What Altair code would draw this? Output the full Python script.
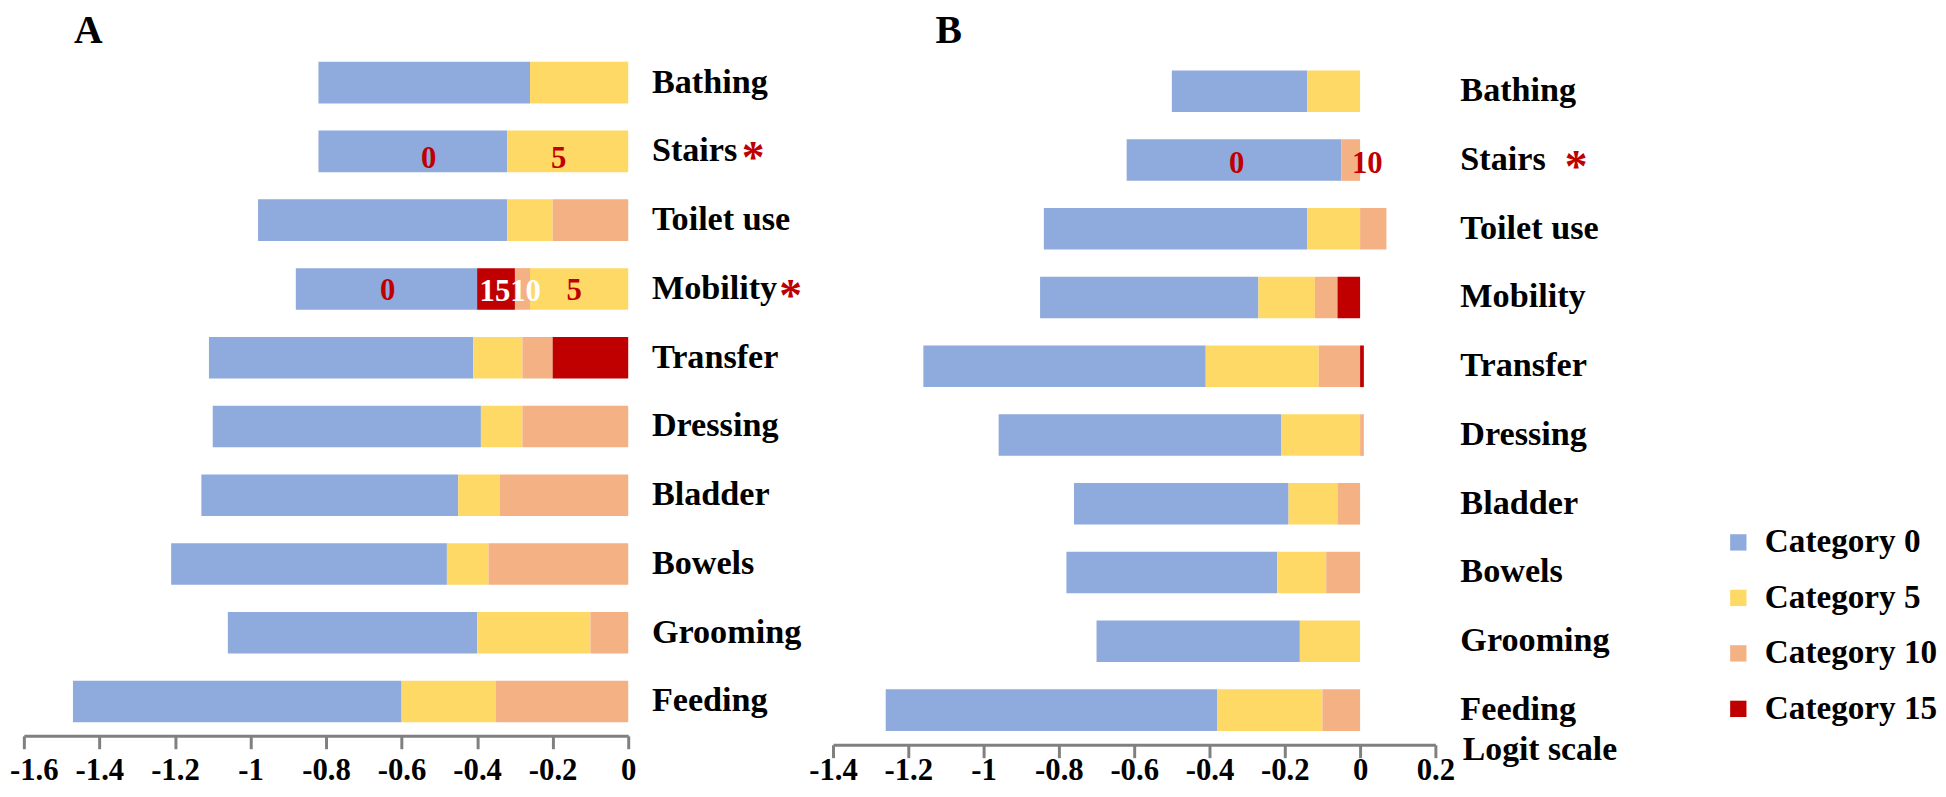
import altair as alt
import pandas as pd

# ---------------- data ----------------
items = ["Bathing", "Stairs", "Toilet use", "Mobility", "Transfer",
         "Dressing", "Bladder", "Bowels", "Grooming", "Feeding"]
categories = ["Category 0", "Category 5", "Category 10", "Category 15"]
colors = ["#8FAADC", "#FFD966", "#F4B183", "#C00000"]

# Panel A: (start, end) of each category segment, per item (None = absent)
A_cat0 = [(-0.82, -0.26), (-0.82, -0.32), (-0.98, -0.32), (-0.88, -0.40), (-1.11, -0.41),
          (-1.10, -0.39), (-1.13, -0.45), (-1.21, -0.48), (-1.06, -0.40), (-1.47, -0.60)]
A_cat5 = [(-0.26, 0.0), (-0.32, 0.0), (-0.32, -0.20), (-0.26, 0.0), (-0.41, -0.28),
          (-0.39, -0.28), (-0.45, -0.34), (-0.48, -0.37), (-0.40, -0.10), (-0.60, -0.35)]
A_cat10 = [None, None, (-0.20, 0.0), (-0.30, -0.26), (-0.28, -0.20),
           (-0.28, 0.0), (-0.34, 0.0), (-0.37, 0.0), (-0.10, 0.0), (-0.35, 0.0)]
A_cat15 = [None, None, None, (-0.40, -0.30), (-0.20, 0.0),
           None, None, None, None, None]

# Panel B
B_cat0 = [(-0.50, -0.14), (-0.62, -0.05), (-0.84, -0.14), (-0.85, -0.27), (-1.16, -0.41),
          (-0.96, -0.21), (-0.76, -0.19), (-0.78, -0.22), (-0.70, -0.16), (-1.26, -0.38)]
B_cat5 = [(-0.14, 0.0), None, (-0.14, 0.0), (-0.27, -0.12), (-0.41, -0.11),
          (-0.21, 0.0), (-0.19, -0.06), (-0.22, -0.09), (-0.16, 0.0), (-0.38, -0.10)]
B_cat10 = [None, (-0.05, 0.0), (0.0, 0.07), (-0.12, -0.06), (-0.11, 0.0),
           (0.0, 0.01), (-0.06, 0.0), (-0.09, 0.0), None, (-0.10, 0.0)]
B_cat15 = [None, None, None, (-0.06, 0.0), (0.0, 0.01),
           None, None, None, None, None]

# in-bar annotations (item, text, x in logits)
A_red_items = ["Stairs", "Stairs", "Mobility", "Mobility"]
A_red_text = ["0", "5", "0", "5"]
A_red_x = [-0.528, -0.184, -0.637, -0.143]
A_white_items = ["Mobility", "Mobility"]
A_white_text = ["15", "10"]
A_white_x = [-0.353, -0.272]
B_red_items = ["Stairs", "Stairs"]
B_red_text = ["0", "10"]
B_red_x = [-0.328, 0.019]

A_ticks = [-1.6, -1.4, -1.2, -1.0, -0.8, -0.6, -0.4, -0.2, 0.0]
B_ticks = [-1.4, -1.2, -1.0, -0.8, -0.6, -0.4, -0.2, 0.0, 0.2]

FONT = "Liberation Serif"
RED = "#C00000"


def segments(*cats):
    rows = []
    for cname, segs in zip(categories, cats):
        for it, s in zip(items, segs):
            if s is not None:
                rows.append({"item": it, "cat": cname, "start": s[0], "end": s[1]})
    return pd.DataFrame(rows)


def x_axis(ticks, pad, first_offset=0):
    return alt.Axis(values=ticks, labelExpr="replace(format(datum.value, '~g'), '\u2212', '-')",
                    domainColor="#808080", domainWidth=3, tickColor="#808080", tickWidth=3,
                    tickSize=13, labelFont=FONT, labelFontWeight="bold", labelFontSize=31,
                    labelColor="black", labelPadding=pad, grid=False, labelFlush=False,
                    labelOverlap=False, title=None,
                    labelOffset={"condition": {"test": "datum.value < -1.55", "value": first_offset},
                                 "value": 0})


def y_axis(pad):
    return alt.Axis(orient="right", domain=False, ticks=False, labelFont=FONT,
                    labelFontWeight="bold", labelFontSize=34.5, labelColor="black",
                    labelAlign="left", labelPadding=pad, labelLimit=0, title=None)


def ytxt():
    return alt.Y("item:N", sort=items, title=None)


def ann_layer(its, txt, xs, color, dy_map):
    df = pd.DataFrame({"item": its, "label": txt, "x": xs})
    layers = []
    for it, dy in dy_map.items():
        sub = df[df["item"] == it]
        if len(sub) == 0:
            continue
        layers.append(alt.Chart(sub).mark_text(font=FONT, fontWeight="bold", fontSize=31,
                                               color=color, align="center",
                                               baseline="alphabetic", dy=dy)
                      .encode(y=ytxt(), x=alt.X("x:Q", title=None), text="label:N"))
    return layers


def star(item, px):
    return alt.Chart(pd.DataFrame({"item": [item]})).mark_text(
        text="*", font=FONT, fontWeight="bold", fontSize=46, color=RED,
        align="center", baseline="alphabetic", dy=22).encode(y=ytxt(), x=alt.value(px))


def label(txt, px, py, size, align="center"):
    return alt.Chart(pd.DataFrame({"t": [txt]})).mark_text(
        font=FONT, fontWeight="bold", fontSize=size, color="black", align=align,
        baseline="alphabetic").encode(text="t:N", x=alt.value(px), y=alt.value(py))


def frame(x0, x1, y0, y1):
    # invisible box that pins the drawing's outer bounds
    return alt.Chart(pd.DataFrame({"k": [0]})).mark_rect(opacity=0, fill="white").encode(
        x=alt.value(x0), x2=alt.value(x1), y=alt.value(y0), y2=alt.value(y1))


# ---------------- panel A ----------------
dfA = segments(A_cat0, A_cat5, A_cat10, A_cat15)
barsA = alt.Chart(dfA).mark_bar().encode(
    y=alt.Y("item:N", sort=items, title=None,
            scale=alt.Scale(paddingInner=0.395, paddingOuter=0.1975), axis=y_axis(23.4)),
    x=alt.X("start:Q", title=None, scale=alt.Scale(domain=[-1.6, 0], nice=False, zero=False),
            axis=x_axis(A_ticks, 7.5, 10)),
    x2="end:Q",
    color=alt.Color("cat:N", scale=alt.Scale(domain=categories, range=colors), legend=None),
)
panelA = alt.layer(
    frame(-15.3, 0, -40.3, 744),
    barsA,
    *ann_layer(A_red_items, A_red_text, A_red_x, RED, {"Stairs": 17, "Mobility": 11}),
    *ann_layer(A_white_items, A_white_text, A_white_x, "white", {"Mobility": 12.5}),
    star("Stairs", 736), star("Mobility", 774),
    label("A", 65, -5.3, 40),
).properties(width=610, height=694)

# ---------------- panel B ----------------
dfB = segments(B_cat0, B_cat5, B_cat10, B_cat15)
barsB = alt.Chart(dfB).mark_bar().encode(
    y=alt.Y("item:N", sort=items, title=None,
            scale=alt.Scale(paddingInner=0.395, paddingOuter=0.2625, align=0.615),
            axis=y_axis(24.7)),
    x=alt.X("start:Q", title=None, scale=alt.Scale(domain=[-1.4, 0.2], nice=False, zero=False),
            axis=x_axis(B_ticks, -1.5, 0)),
    x2="end:Q",
    color=alt.Color("cat:N", scale=alt.Scale(domain=categories, range=colors),
                    legend=alt.Legend(orient="none", legendX=897, legendY=482, title=None,
                                      symbolType="square", symbolSize=272, symbolStrokeWidth=0,
                                      labelFont=FONT, labelFontSize=33.5, labelFontWeight="bold",
                                      labelColor="black", labelOffset=10, rowPadding=21,
                                      padding=0, labelLimit=0)),
)
panelB = alt.layer(
    frame(0, 1098, -40.3, 744),
    barsB,
    *ann_layer(B_red_items, B_red_text, B_red_x, RED, {"Stairs": 13}),
    star("Stairs", 750),
    label("B", 116.7, -5.3, 40),
    label("Logit scale", 635.7, 718.7, 34, align="left"),
).properties(width=608, height=703)

chart = alt.hconcat(panelA, panelB, spacing=206.7, bounds="flush").resolve_scale(
    color="independent", x="independent", y="independent"
).properties(
    padding={"left": 0, "top": -4, "right": 0, "bottom": 0},
    background="white",
).configure_view(stroke=None)

chart.save("out.html", embed_options={"renderer": "svg", "actions": False})
